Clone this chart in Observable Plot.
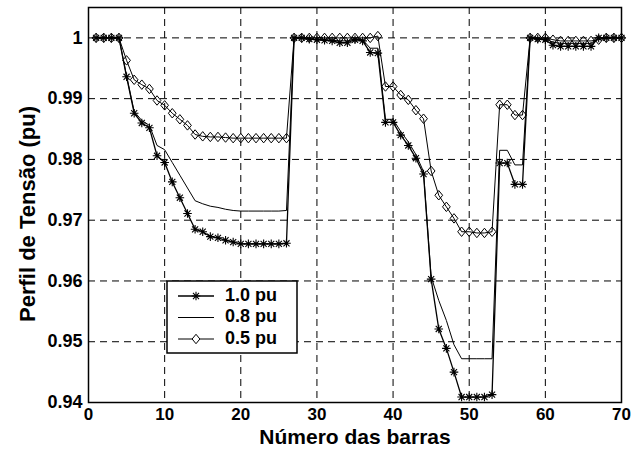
<!DOCTYPE html>
<html>
<head>
<meta charset="utf-8">
<script src="https://cdn.jsdelivr.net/npm/d3@7"></script>
<script src="https://cdn.jsdelivr.net/npm/@observablehq/plot@0.6"></script>
<style>
  html, body { margin: 0; padding: 0; background: #fff; }
  #chart { width: 631px; height: 455px; }
  svg text { font-family: "Liberation Sans", Arial, sans-serif; font-weight: bold; }
</style>
</head>
<body>
<div id="chart"></div>
<script>
// Bus numbers
const buses = [1,2,3,4,5,6,7,8,9,10,11,12,13,14,15,16,17,18,19,20,21,22,23,24,25,26,27,28,29,30,31,32,33,34,35,36,37,38,39,40,41,42,43,44,45,46,47,48,49,50,51,52,53,54,55,56,57,58,59,60,61,62,63,64,65,66,67,68,69,70];

// Voltage profile, load level 1.0 pu
const v10 = [1,1,1,1,0.9936,0.9876,0.9860,0.9852,0.9806,0.9795,
  0.9763,0.9737,0.9711,0.9685,0.9681,0.9673,0.9671,0.9667,0.9664,0.9661,
  0.9661,0.9661,0.9661,0.9661,0.9661,0.9662,1.0,1.0,0.9998,0.9997,
  0.9996,0.9995,0.9992,0.9992,0.9997,0.9995,0.9976,0.9975,0.9861,0.9861,
  0.9840,0.9823,0.9802,0.9776,0.9603,0.9521,0.9489,0.9450,0.9409,0.9409,
  0.9409,0.9409,0.9413,0.9794,0.9794,0.9759,0.9759,1.0,0.9998,0.9997,
  0.9988,0.9986,0.9986,0.9986,0.9986,0.9986,1.0,1.0,1.0,1.0];

// Voltage profile, load level 0.8 pu
const v08 = [1,1,1,1,0.9938,0.9879,0.9864,0.9856,0.9823,0.9816,
  0.9795,0.9774,0.9753,0.9732,0.9727,0.9723,0.9721,0.9718,0.9716,0.9715,
  0.9715,0.9715,0.9715,0.9715,0.9715,0.9716,1.0,1.0,0.9999,0.9997,
  0.9997,0.9996,0.9995,0.9995,0.9998,0.9997,0.9983,0.9983,0.9866,0.9866,
  0.9846,0.9829,0.9808,0.9780,0.9607,0.9568,0.9535,0.9495,0.9472,0.9472,
  0.9472,0.9472,0.9472,0.9815,0.9815,0.9791,0.9791,1.0,0.9999,0.9998,
  0.9993,0.9991,0.9991,0.9991,0.9991,0.9991,1.0,1.0,1.0,1.0];

// Voltage profile, load level 0.5 pu
const v05 = [1,1,1,1,0.9963,0.9931,0.9923,0.9916,0.9897,0.9889,
  0.9876,0.9866,0.9856,0.9841,0.9838,0.9837,0.9837,0.9836,0.9835,0.9835,
  0.9835,0.9835,0.9835,0.9835,0.9835,0.9835,1.0,1.0,1.0,1.0,
  1.0,1.0,1.0,1.0,1.0,1.0,1.0,1.0003,0.9920,0.9920,
  0.9906,0.9898,0.9881,0.9867,0.9781,0.9741,0.9722,0.9703,0.9681,0.9681,
  0.9679,0.9679,0.9681,0.9890,0.9890,0.9873,0.9873,1.0,1.0,1.0,
  0.9997,0.9995,0.9995,0.9995,0.9995,0.9995,0.9997,1.0,1.0,1.0];

const xTicks = [0,10,20,30,40,50,60,70];
const yTicks = [0.94,0.95,0.96,0.97,0.98,0.99,1];
const yTickLabels = ["0.94","0.95","0.96","0.97","0.98","0.99","1"];
const seriesNames = ["1.0 pu","0.8 pu","0.5 pu"];
const xTitle = "Número das barras";
const yTitle = "Perfil de Tensão (pu)";

const d10 = buses.map((b,i) => ({bus: b, v: v10[i]}));
const d08 = buses.map((b,i) => ({bus: b, v: v08[i]}));
const d05 = buses.map((b,i) => ({bus: b, v: v05[i]}));

// MATLAB-like markers
const star8 = {
  draw(ctx, size) {
    const r = Math.sqrt(size / Math.PI);
    const d = r * 0.707;
    ctx.moveTo(-r, 0); ctx.lineTo(r, 0);
    ctx.moveTo(0, -r); ctx.lineTo(0, r);
    ctx.moveTo(-d, -d); ctx.lineTo(d, d);
    ctx.moveTo(-d, d); ctx.lineTo(d, -d);
  }
};
const diamond = {
  draw(ctx, size) {
    const r = Math.sqrt(size / Math.PI);
    ctx.moveTo(0, -r * 1.1);
    ctx.lineTo(r * 0.9, 0);
    ctx.lineTo(0, r * 1.1);
    ctx.lineTo(-r * 0.9, 0);
    ctx.closePath();
  }
};

const plot = Plot.plot({
  width: 631,
  height: 455,
  marginTop: 7,
  marginBottom: 53,
  marginLeft: 88,
  marginRight: 10,
  style: {fontFamily: "Liberation Sans, Arial, sans-serif", fontWeight: "bold", fontSize: "18px", color: "black", background: "white"},
  x: {domain: [0, 70]},
  y: {domain: [0.94, 1.005]},
  marks: [
    Plot.gridX(xTicks.slice(1, -1), {stroke: "black", strokeOpacity: 1, strokeWidth: 1, strokeDasharray: "7,5"}),
    Plot.gridY(yTicks.slice(1), {stroke: "black", strokeOpacity: 1, strokeWidth: 1, strokeDasharray: "7,5"}),
    Plot.line(d08, {x: "bus", y: "v", stroke: "black", strokeWidth: 1}),
    Plot.line(d05, {x: "bus", y: "v", stroke: "black", strokeWidth: 1}),
    Plot.line(d10, {x: "bus", y: "v", stroke: "black", strokeWidth: 1.3}),
    Plot.dot(d05, {x: "bus", y: "v", symbol: diamond, r: 4.3, stroke: "black", strokeWidth: 1, fill: "none"}),
    Plot.dot(d10, {x: "bus", y: "v", symbol: star8, r: 4.3, stroke: "black", strokeWidth: 1.1, fill: "none"}),
    Plot.axisX(xTicks, {tickSize: 0, tickPadding: 5, label: null, fontSize: 17}),
    Plot.axisY(yTicks, {tickSize: 0, tickPadding: 6, label: null, fontSize: 18,
      tickFormat: (d) => yTickLabels[yTicks.indexOf(d)]}),
    Plot.frame({stroke: "black", strokeWidth: 1.5})
  ]
});

document.getElementById("chart").appendChild(plot);

const svg = d3.select(plot);

// Axis titles
svg.append("text")
  .attr("x", 355).attr("y", 438)
  .attr("text-anchor", "middle").attr("dominant-baseline", "middle")
  .attr("font-size", 21).attr("fill", "black")
  .text(xTitle);
svg.append("text")
  .attr("transform", "translate(29,214) rotate(-90)")
  .attr("text-anchor", "middle").attr("dominant-baseline", "middle")
  .attr("font-size", 22).attr("fill", "black")
  .text(yTitle);

// Legend
const lg = svg.append("g");
lg.append("rect").attr("x", 167).attr("y", 281).attr("width", 130).attr("height", 72)
  .attr("fill", "white").attr("stroke", "black").attr("stroke-width", 1.5);
const rows = [296, 317.5, 339];
const symPath = (sym) => { const p = d3.path(); sym.draw(p, Math.PI * 4.3 * 4.3); return p.toString(); };
seriesNames.forEach((name, i) => {
  const y = rows[i];
  lg.append("line").attr("x1", 178).attr("x2", 214).attr("y1", y).attr("y2", y)
    .attr("stroke", "black").attr("stroke-width", i === 0 ? 1.3 : 1);
  if (i === 0) lg.append("path").attr("d", symPath(star8)).attr("transform", `translate(196,${y})`)
    .attr("stroke", "black").attr("fill", "none").attr("stroke-width", 1.1);
  if (i === 2) lg.append("path").attr("d", symPath(diamond)).attr("transform", `translate(196,${y})`)
    .attr("stroke", "black").attr("fill", "white");
  lg.append("text").attr("x", 225).attr("y", y).attr("text-anchor", "start").attr("dominant-baseline", "middle")
    .attr("font-size", 18).attr("fill", "black").text(name);
});
</script>
</body>
</html>
